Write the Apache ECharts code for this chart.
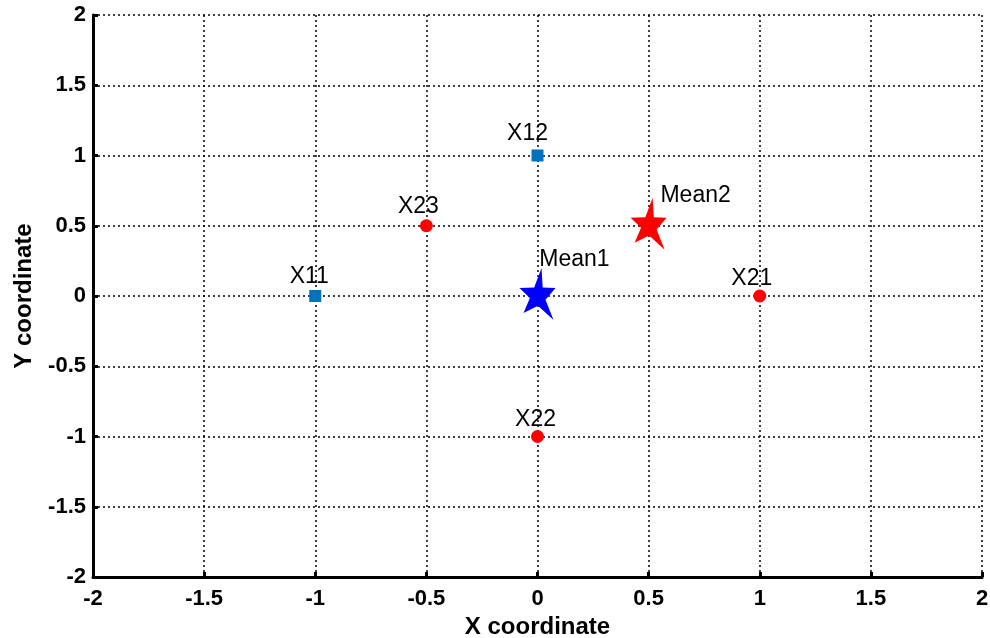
<!DOCTYPE html>
<html>
<head>
<meta charset="utf-8">
<script src="https://cdn.jsdelivr.net/npm/echarts@6/dist/echarts.min.js"></script>
<style>
    html, body { margin: 0; padding: 0; background: #fff; }
    #chart { width: 990px; height: 638px; }
</style>
</head>
<body>
<div id="chart"></div>
<script>
// 数据：类别1（蓝色方块）、类别2（红色圆点）、均值（星形）
const class1Names = ['X11', 'X12'];
const class1Points = [[-1, 0], [0, 1]];
const class2Names = ['X21', 'X22', 'X23'];
const class2Points = [[1, 0], [0, -1], [-0.5, 0.5]];
const meanNames = ['Mean1', 'Mean2'];
const meanPoints = [[0, 0], [0.5, 0.5]];
const meanColors = ['#0000FF', '#FF0000'];

// 标签偏移（像素）
const labelOffsets = {
    X11: [-6, -19], X12: [-10, -22],
    X21: [-8, -17], X22: [-2, -17], X23: [-8, -19],
    Mean1: [37, -34], Mean2: [47, -28]
};

// 五角星（略微倾斜，模仿 MATLAB pentagram）
const STAR = 'path://M22,0 L23.2,19.5 L36,20 L26,31.8 L34,52 L18.5,37.7 L4,45 L10.4,30.1 L0,20 L14.7,19.5 Z';
const FONT = 'Liberation Sans, Arial, sans-serif';

function buildData(names, points) {
    return points.map((p, i) => ({
        value: p,
        name: names[i],
        label: { offset: labelOffsets[names[i]] }
    }));
}

function pointLabel() {
    return {
        show: true,
        position: 'inside',
        align: 'center',
        verticalAlign: 'middle',
        formatter: '{b}',
        color: '#000',
        fontFamily: FONT,
        fontSize: 23
    };
}

function axisCommon(name) {
    return {
        type: 'value',
        min: -2,
        max: 2,
        interval: 0.5,
        name: name,
        nameLocation: 'middle',
        nameTextStyle: { color: '#000', fontFamily: FONT, fontSize: 24, fontWeight: 'bold' },
        axisLine: { show: true, onZero: false, lineStyle: { color: '#000', width: 3 } },
        axisTick: { show: true, inside: true, length: 5, lineStyle: { color: '#000', width: 3 } },
        splitLine: { show: true, lineStyle: { color: '#000', type: [2, 3], width: 1.5 } },
        axisLabel: {
            color: '#000',
            fontFamily: FONT,
            fontSize: 22,
            fontWeight: 'bold',
            formatter: v => String(v)
        }
    };
}

document.addEventListener('DOMContentLoaded', () => {
    const chart = echarts.init(document.getElementById('chart'), null, { renderer: 'canvas' });

    const xAxis = axisCommon('X coordinate');
    xAxis.nameGap = 35;
    xAxis.axisLabel.margin = 11;

    const yAxis = axisCommon('Y coordinate');
    yAxis.nameGap = 57;
    yAxis.axisLabel.margin = 7;

    const option = {
        animation: false,
        backgroundColor: '#fff',
        grid: {
            left: 93, right: 8, top: 15, bottom: 61,
            containLabel: false,
            outerBoundsMode: 'none'
        },
        xAxis: xAxis,
        yAxis: yAxis,
        series: [
            {
                name: 'Class1',
                type: 'scatter',
                symbol: 'rect',
                symbolSize: 12,
                itemStyle: { color: '#0072BD', opacity: 1 },
                label: pointLabel(),
                data: buildData(class1Names, class1Points)
            },
            {
                name: 'Class2',
                type: 'scatter',
                symbol: 'circle',
                symbolSize: 13,
                itemStyle: { color: '#FF0000', opacity: 1 },
                label: pointLabel(),
                data: buildData(class2Names, class2Points)
            },
            {
                name: 'Mean',
                type: 'scatter',
                symbol: STAR,
                symbolSize: [36, 52],
                symbolOffset: [0, -2],
                label: pointLabel(),
                data: buildData(meanNames, meanPoints).map((d, i) => {
                    d.itemStyle = { color: meanColors[i], opacity: 1 };
                    return d;
                })
            }
        ]
    };

    chart.setOption(option);
});
</script>
</body>
</html>
